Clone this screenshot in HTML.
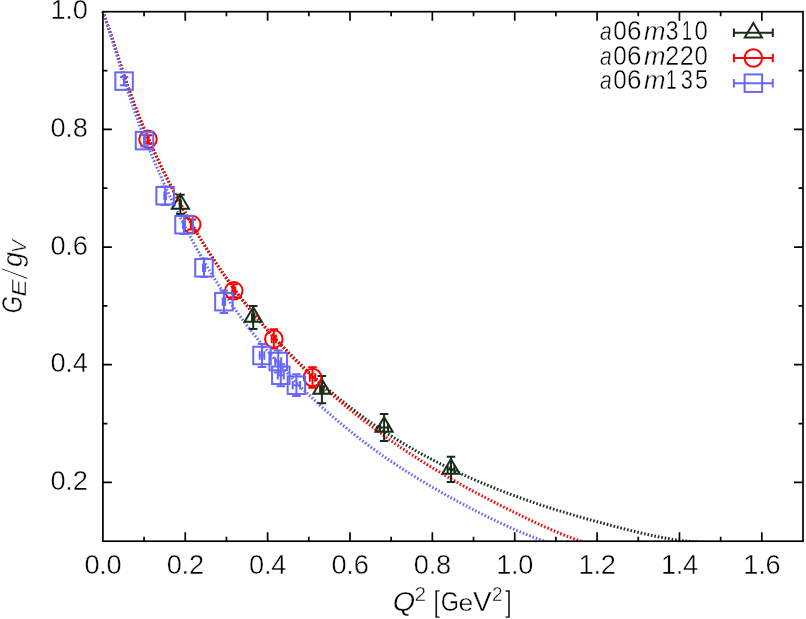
<!DOCTYPE html>
<html><head><meta charset="utf-8"><title>GE/gV</title><style>html,body{margin:0;padding:0;background:#fff;}body{width:806px;height:619px;overflow:hidden;font-family:"Liberation Sans",sans-serif;}svg{display:block;}</style></head><body>
<svg width="806" height="619" viewBox="0 0 806 619">
<rect width="806" height="619" fill="#fff"/>
<defs><filter id="gs" x="0" y="0" width="806" height="619" filterUnits="userSpaceOnUse" color-interpolation-filters="sRGB"><feColorMatrix type="saturate" values="0"/></filter><clipPath id="cp"><rect x="100.90" y="10.20" width="702.10" height="531.30"/></clipPath></defs>
<path d="M102.90,11.50L103.45,12.99M104.10,14.77L104.64,16.26M105.27,18.04L105.80,19.55M106.43,21.32L106.95,22.83M107.56,24.62L108.11,26.23M108.74,28.07L109.25,29.58M109.85,31.39L110.35,32.89M110.95,34.70L111.45,36.21M112.04,38.02L112.53,39.53M113.13,41.33L113.62,42.85M114.20,44.65L114.69,46.18M115.27,47.98L115.77,49.50M116.35,51.31L116.84,52.84M117.42,54.64L117.91,56.16M118.49,57.97L118.98,59.49M119.56,61.29L120.05,62.82M120.64,64.62L121.13,66.14M121.72,67.95L122.22,69.47M122.81,71.27L123.30,72.79M123.90,74.60L124.40,76.11M125.00,77.91L125.51,79.43M126.11,81.23L126.63,82.75M127.25,84.53L127.76,86.05M128.38,87.84L128.91,89.35M129.55,91.13L130.08,92.64M130.72,94.43L131.27,95.93M131.92,97.71L132.46,99.20M133.12,100.99L133.68,102.48M134.35,104.26L134.92,105.75M135.59,107.53L136.17,109.02M136.85,110.78L137.43,112.26M138.14,114.04L138.72,115.51M139.43,117.28L140.03,118.78M140.75,120.53L141.40,122.12M142.12,123.87L142.73,125.34M143.46,127.10L144.08,128.56M144.82,130.30L145.45,131.78M146.20,133.52L146.83,134.98M147.59,136.72L148.23,138.18M148.99,139.92L149.65,141.38M150.42,143.11L151.07,144.57M151.85,146.29L152.51,147.75M153.29,149.48L153.96,150.92M154.75,152.65L155.42,154.10M156.23,155.82L156.90,157.26M157.70,158.99L158.39,160.44M159.20,162.14L159.89,163.60M160.71,165.31L161.40,166.74M162.22,168.45L162.93,169.89M163.76,171.59L164.46,173.03M165.31,174.73L166.02,176.17M166.86,177.86L167.58,179.29M168.43,180.98L169.15,182.42M170.02,184.11L170.74,185.53M171.61,187.22L172.35,188.64M173.22,190.33L173.96,191.74M174.85,193.43L175.59,194.84M176.48,196.52L177.23,197.93M178.13,199.61L178.89,201.01M179.79,202.69L180.55,204.09M181.46,205.76L182.23,207.16M183.15,208.82L183.92,210.22M184.85,211.88L185.63,213.27M186.56,214.92L187.34,216.32M188.28,217.97L189.08,219.37M190.02,221.01L190.82,222.40M191.77,224.04L192.62,225.49M193.58,227.14L194.39,228.52M195.33,230.11L196.13,231.45M197.15,233.15L197.97,234.54M198.95,236.16L199.78,237.52M200.77,239.15L201.61,240.51M202.60,242.12L203.44,243.48M204.45,245.10L205.29,246.44M206.31,248.05L207.16,249.40M208.18,251.00L209.04,252.35M210.07,253.95L210.94,255.28M211.97,256.87L212.85,258.21M213.88,259.80L214.77,261.13M215.82,262.71L216.71,264.04M217.77,265.61L218.66,266.94M219.73,268.50L220.63,269.82M221.71,271.38L222.61,272.70M223.69,274.26L224.61,275.56M225.70,277.11L226.63,278.42M227.72,279.96L228.66,281.26M229.76,282.80L230.70,284.09M231.82,285.63L232.76,286.91M233.89,288.44L234.84,289.72M236.03,291.30L236.98,292.59M238.13,294.10L239.09,295.37M240.25,296.87L241.22,298.14M242.38,299.63L243.36,300.89M244.53,302.39L245.51,303.64M246.70,305.12L247.68,306.37M248.87,307.85L249.87,309.09M251.07,310.56L252.08,311.80M253.28,313.26L254.29,314.49M255.51,315.95L256.58,317.22M257.80,318.67L258.83,319.89M260.06,321.33L261.09,322.54M262.33,323.97L263.37,325.18M264.62,326.60L265.66,327.80M266.92,329.22L267.97,330.40M269.24,331.82L270.35,333.06M271.62,334.46L272.68,335.64M273.96,337.04L275.03,338.20M276.32,339.59L277.40,340.76M278.69,342.14L279.83,343.35M281.13,344.72L282.22,345.87M283.53,347.23L284.63,348.38M285.94,349.74L287.06,350.88M288.41,352.28L289.53,353.41M290.85,354.75L291.97,355.87M293.30,357.21L294.43,358.33M295.81,359.70L296.94,360.81M298.28,362.13L299.42,363.24M300.80,364.57L301.96,365.69M303.32,366.99L304.46,368.08M305.87,369.41L307.03,370.51M308.40,371.79L309.56,372.88M310.98,374.19L312.15,375.27M313.53,376.53L314.72,377.61M316.14,378.90L317.31,379.96M318.72,381.21L319.94,382.30M321.35,383.54L322.57,384.62M323.98,385.85L325.17,386.89M326.64,388.15L327.84,389.17M329.26,390.39L330.52,391.45M331.94,392.65L333.15,393.66M334.63,394.90L335.88,395.93M337.34,397.12L338.54,398.11M340.05,399.33L341.27,400.31M342.77,401.51L344.00,402.49M345.51,403.69L346.75,404.66M348.26,405.83L349.54,406.83M351.00,407.95L352.28,408.93M353.78,410.07L355.09,411.05M356.56,412.17L357.87,413.13M359.37,414.25L360.66,415.20M362.21,416.33L363.51,417.27M365.03,418.36L366.34,419.30M367.87,420.39L369.17,421.30M370.75,422.42L372.00,423.29M373.59,424.38L374.90,425.29M376.48,426.36L377.82,427.26M379.34,428.28L380.70,429.19M382.27,430.23L383.58,431.10M385.20,432.15L386.51,433.01M388.11,434.04L389.45,434.89M391.02,435.89L392.40,436.76M393.97,437.74L395.32,438.59M396.98,439.62L398.33,440.43M399.92,441.41L401.35,442.27M402.93,443.21L404.32,444.05M405.93,445.00L407.23,445.76M408.91,446.75L410.34,447.57M411.98,448.51L413.31,449.27M414.99,450.23L416.39,451.01M418.05,451.93L419.40,452.70M421.03,453.59L422.53,454.41M424.18,455.31L425.49,456.01M427.20,456.93L428.57,457.66M430.21,458.52L431.69,459.30M433.30,460.15L434.71,460.88M436.43,461.75L437.81,462.46M439.51,463.33L441.00,464.07M442.57,464.86L444.08,465.61M445.81,466.46L447.13,467.11M448.85,467.95L450.29,468.65M452.00,469.47L453.43,470.15M455.13,470.96L456.52,471.61M458.34,472.47L459.70,473.09M461.48,473.91L462.84,474.55M464.61,475.35L466.03,475.99M467.73,476.76L469.25,477.43M471.01,478.21L472.30,478.78M474.24,479.64L475.71,480.27M477.45,481.02L478.92,481.65M480.67,482.40L482.14,483.02M483.89,483.75L485.37,484.37M487.13,485.10L488.61,485.71M490.36,486.43L491.85,487.03M493.61,487.74L495.09,488.34M496.86,489.04L498.35,489.63M500.11,490.32L501.61,490.90M503.38,491.58L504.87,492.16M506.65,492.84L508.14,493.40M509.92,494.07L511.42,494.64M513.20,495.29L514.70,495.85M516.49,496.50L517.99,497.05M519.78,497.69L521.28,498.23M523.07,498.87L524.58,499.40M526.37,500.03L527.88,500.56M529.68,501.18L531.19,501.70M532.99,502.32L534.50,502.83M536.31,503.44L537.82,503.94M539.63,504.55L541.14,505.05M542.95,505.64L544.47,506.13M546.28,506.72L547.80,507.21M549.61,507.78L551.14,508.27M552.95,508.85L554.48,509.32M556.29,509.88L557.82,510.36M559.63,510.92L561.16,511.38M562.98,511.93L564.51,512.40M566.33,512.95L567.87,513.40M569.69,513.94L571.22,514.39M573.04,514.93L574.58,515.38M576.41,515.90L577.94,516.35M579.77,516.87L581.31,517.31M583.14,517.83L584.68,518.27M586.50,518.78L588.05,519.21M589.88,519.72L591.42,520.15M593.25,520.65L594.79,521.08M596.63,521.58L598.17,522.00M600.00,522.50L601.55,522.91M603.38,523.40L604.93,523.82M606.76,524.30L608.31,524.72M610.15,525.21L611.69,525.61M613.53,526.09L615.08,526.50M616.92,526.98L618.47,527.38M620.30,527.86L621.86,528.25M623.69,528.73L625.24,529.13M627.09,529.59L628.64,529.99M630.48,530.45L632.03,530.84M633.88,531.29L635.43,531.67M637.28,532.12L638.83,532.50M640.68,532.94L642.24,533.30M644.09,533.72L645.65,534.08M647.50,534.50L649.07,534.84M650.92,535.24L652.49,535.58M654.35,535.97L655.91,536.30M657.78,536.67L659.34,536.98M661.21,537.34L662.78,537.64M664.65,537.98L666.23,538.26M668.10,538.58L669.68,538.85M671.55,539.16L673.13,539.40M675.01,539.68L676.60,539.91M678.48,540.18L680.06,540.38M681.95,540.62L683.54,540.82M685.42,541.02L687.02,541.19M688.91,541.38L690.50,541.52M692.39,541.68L693.99,541.81M695.88,541.94L697.48,542.04M699.38,542.14L700.98,542.21M702.87,542.27L704.16,542.31" fill="none" stroke="#182d18" stroke-width="3.0" clip-path="url(#cp)"/>
<path d="M102.90,11.50 L103.72,13.75 L104.55,16.04 L105.37,18.37 L106.19,20.72 L107.02,23.10 L107.84,25.51 L108.67,27.95 L109.49,30.41 L110.31,32.89 L111.14,35.38 L111.96,37.89 L112.78,40.42 L113.61,42.96 L114.43,45.51 L115.25,48.06 L116.08,50.62 L116.90,53.18 L117.73,55.75 L118.55,58.31 L119.37,60.87 L120.20,63.42 L121.02,65.97 L121.84,68.50 L122.67,71.02 L123.49,73.53 L124.31,76.02 L125.14,78.50 L125.96,80.95 L126.79,83.37 L127.61,85.78 L128.43,88.15 L129.26,90.50 L130.08,92.82 L130.90,95.12 L131.73,97.39 L132.55,99.64 L133.37,101.86 L134.20,104.06 L135.02,106.23 L135.85,108.38 L136.67,110.52 L137.49,112.63 L138.32,114.71 L139.14,116.78 L139.96,118.83 L140.79,120.86 L141.61,122.87 L142.44,124.87 L143.26,126.84 L144.08,128.80 L144.91,130.75 L145.73,132.67 L146.55,134.59 L147.38,136.48 L148.20,138.37 L149.02,140.24 L149.85,142.10 L150.67,143.94 L151.50,145.78 L152.32,147.60 L153.14,149.41 L153.97,151.22 L154.79,153.01 L155.61,154.79 L156.44,156.56 L157.26,158.33 L158.08,160.08 L158.91,161.82 L159.73,163.55 L160.56,165.27 L161.38,166.99 L162.20,168.69 L163.03,170.39 L163.85,172.07 L164.67,173.75 L165.50,175.41 L166.32,177.07 L167.14,178.72 L167.97,180.36 L168.79,181.99 L169.62,183.61 L170.44,185.23 L171.26,186.83 L172.09,188.43 L172.91,190.02 L173.73,191.60 L174.56,193.17 L175.38,194.74 L176.20,196.29 L177.03,197.84 L177.85,199.38 L178.68,200.92 L179.50,202.44 L180.32,203.96 L181.15,205.47 L181.97,206.97 L182.79,208.47 L183.62,209.96 L184.44,211.44 L185.26,212.92 L186.09,214.38 L186.91,215.85 L187.74,217.30 L188.56,218.75 L189.38,220.19 L190.21,221.62 L191.03,223.05 L191.85,224.47 L192.68,225.89 L193.50,227.30 L194.32,228.70 L195.15,230.09 L195.97,231.48 L196.80,232.86 L197.62,234.24 L198.44,235.61 L199.27,236.97 L200.09,238.33 L200.91,239.68 L201.74,241.02 L202.56,242.36 L203.38,243.69 L204.21,245.01 L205.03,246.33 L205.86,247.64 L206.68,248.95 L207.50,250.25 L208.33,251.54 L209.15,252.83 L209.97,254.11 L210.80,255.39 L211.62,256.66 L212.45,257.92 L213.27,259.18 L214.09,260.43 L214.92,261.68 L215.74,262.92 L216.56,264.15 L217.39,265.38 L218.21,266.60 L219.03,267.82 L219.86,269.03 L220.68,270.24 L221.51,271.44 L222.33,272.63 L223.15,273.82 L223.98,275.00 L224.80,276.18 L225.62,277.35 L226.45,278.52 L227.27,279.68 L228.09,280.83 L228.92,281.98 L229.74,283.13 L230.57,284.27 L231.39,285.40 L232.21,286.53 L233.04,287.65 L233.86,288.77 L234.68,289.88 L235.51,290.99 L236.33,292.09 L237.15,293.19 L237.98,294.28 L238.80,295.37 L239.63,296.45 L240.45,297.53 L241.27,298.60 L242.10,299.67 L242.92,300.74 L243.74,301.79 L244.57,302.85 L245.39,303.90 L246.21,304.94 L247.04,305.98 L247.86,307.02 L248.69,308.05 L249.51,309.07 L250.33,310.09 L251.16,311.11 L251.98,312.12 L252.80,313.13 L253.63,314.14 L254.45,315.14 L255.27,316.13 L256.10,317.12 L256.92,318.11 L257.75,319.09 L258.57,320.07 L259.39,321.05 L260.22,322.02 L261.04,322.98 L261.86,323.95 L262.69,324.90 L263.51,325.86 L264.33,326.81 L265.16,327.76 L265.98,328.70 L266.81,329.64 L267.63,330.58 L268.45,331.51 L269.28,332.44 L270.10,333.36 L270.92,334.28 L271.75,335.20 L272.57,336.11 L273.39,337.02 L274.22,337.93 L275.04,338.84 L275.87,339.74 L276.69,340.63 L277.51,341.53 L278.34,342.42 L279.16,343.30 L279.98,344.19 L280.81,345.07 L281.63,345.95 L282.46,346.82 L283.28,347.69 L284.10,348.56 L284.93,349.43 L285.75,350.29 L286.57,351.15 L287.40,352.01 L288.22,352.86 L289.04,353.71 L289.87,354.56 L290.69,355.41 L291.52,356.25 L292.34,357.09 L293.16,357.93 L293.99,358.76 L294.81,359.59 L295.63,360.42 L296.46,361.25 L297.28,362.07 L298.10,362.90 L298.93,363.71 L299.75,364.53 L300.58,365.34 L301.40,366.15 L302.22,366.96 L303.05,367.77 L303.87,368.57 L304.69,369.37 L305.52,370.17 L306.34,370.96 L307.16,371.75 L307.99,372.54 L308.81,373.33 L309.64,374.12 L310.46,374.90 L311.28,375.68 L312.11,376.45 L312.93,377.23 L313.75,378.00 L314.58,378.77 L315.40,379.54 L316.22,380.30 L317.05,381.06 L317.87,381.82 L318.70,382.58 L319.52,383.34 L320.34,384.09 L321.17,384.84 L321.99,385.59 L322.81,386.33 L323.64,387.07 L324.46,387.81 L325.28,388.55 L326.11,389.29 L326.93,390.02 L327.76,390.75 L328.58,391.48 L329.40,392.21 L330.23,392.93 L331.05,393.65 L331.87,394.37 L332.70,395.09 L333.52,395.81 L334.34,396.52 L335.17,397.23 L335.99,397.94 L336.82,398.64 L337.64,399.35 L338.46,400.05 L339.29,400.75 L340.11,401.45 L340.93,402.14 L341.76,402.83 L342.58,403.52 L343.40,404.21 L344.23,404.90 L345.05,405.58 L345.88,406.27 L346.70,406.95 L347.52,407.62 L348.35,408.30 L349.17,408.97 L349.99,409.65 L350.82,410.32 L351.64,410.98 L352.47,411.65 L353.29,412.31 L354.11,412.97 L354.94,413.63 L355.76,414.29 L356.58,414.95 L357.41,415.60 L358.23,416.25 L359.05,416.90 L359.88,417.55 L360.70,418.20 L361.53,418.84 L362.35,419.48 L363.17,420.12 L364.00,420.76 L364.82,421.40 L365.64,422.03 L366.47,422.67 L367.29,423.30 L368.11,423.92 L368.94,424.55 L369.76,425.18 L370.59,425.80 L371.41,426.42 L372.23,427.04 L373.06,427.66 L373.88,428.28 L374.70,428.89 L375.53,429.50 L376.35,430.12 L377.17,430.72 L378.00,431.33 L378.82,431.94 L379.65,432.54 L380.47,433.14 L381.29,433.74 L382.12,434.34 L382.94,434.94 L383.76,435.54 L384.59,436.13 L385.41,436.72 L386.23,437.31 L387.06,437.90 L387.88,438.49 L388.71,439.07 L389.53,439.65 L390.35,440.24 L391.18,440.82 L392.00,441.39 L392.82,441.97 L393.65,442.55 L394.47,443.12 L395.29,443.69 L396.12,444.26 L396.94,444.83 L397.77,445.40 L398.59,445.96 L399.41,446.53 L400.24,447.09 L401.06,447.65 L401.88,448.21 L402.71,448.77 L403.53,449.32 L404.35,449.88 L405.18,450.43 L406.00,450.98 L406.83,451.53 L407.65,452.08 L408.47,452.62 L409.30,453.17 L410.12,453.71 L410.94,454.25 L411.77,454.79 L412.59,455.33 L413.41,455.87 L414.24,456.40 L415.06,456.94 L415.89,457.47 L416.71,458.00 L417.53,458.53 L418.36,459.06 L419.18,459.59 L420.00,460.11 L420.83,460.64 L421.65,461.16 L422.48,461.68 L423.30,462.20 L424.12,462.72 L424.95,463.23 L425.77,463.75 L426.59,464.26 L427.42,464.78 L428.24,465.29 L429.06,465.80 L429.89,466.30 L430.71,466.81 L431.54,467.32 L432.36,467.82 L433.18,468.32 L434.01,468.82 L434.83,469.32 L435.65,469.82 L436.48,470.32 L437.30,470.82 L438.12,471.31 L438.95,471.80 L439.77,472.29 L440.60,472.79 L441.42,473.27 L442.24,473.76 L443.07,474.25 L443.89,474.73 L444.71,475.22 L445.54,475.70 L446.36,476.18 L447.18,476.66 L448.01,477.14 L448.83,477.62 L449.66,478.09 L450.48,478.57 L451.30,479.04 L452.13,479.52 L452.95,479.99 L453.77,480.46 L454.60,480.93 L455.42,481.39 L456.24,481.86 L457.07,482.33 L457.89,482.79 L458.72,483.25 L459.54,483.71 L460.36,484.17 L461.19,484.63 L462.01,485.09 L462.83,485.55 L463.66,486.01 L464.48,486.46 L465.30,486.91 L466.13,487.37 L466.95,487.82 L467.78,488.27 L468.60,488.72 L469.42,489.17 L470.25,489.62 L471.07,490.06 L471.89,490.51 L472.72,490.95 L473.54,491.40 L474.36,491.84 L475.19,492.28 L476.01,492.72 L476.84,493.16 L477.66,493.60 L478.48,494.04 L479.31,494.47 L480.13,494.91 L480.95,495.34 L481.78,495.78 L482.60,496.21 L483.42,496.64 L484.25,497.08 L485.07,497.51 L485.90,497.94 L486.72,498.36 L487.54,498.79 L488.37,499.22 L489.19,499.65 L490.01,500.07 L490.84,500.50 L491.66,500.92 L492.49,501.35 L493.31,501.77 L494.13,502.19 L494.96,502.61 L495.78,503.03 L496.60,503.45 L497.43,503.87 L498.25,504.29 L499.07,504.71 L499.90,505.13 L500.72,505.54 L501.55,505.96 L502.37,506.37 L503.19,506.79 L504.02,507.20 L504.84,507.61 L505.66,508.03 L506.49,508.44 L507.31,508.85 L508.13,509.26 L508.96,509.67 L509.78,510.08 L510.61,510.49 L511.43,510.90 L512.25,511.31 L513.08,511.72 L513.90,512.12 L514.72,512.53 L515.55,512.94 L516.37,513.34 L517.19,513.75 L518.02,514.15 L518.84,514.56 L519.67,514.96 L520.49,515.36 L521.31,515.77 L522.14,516.17 L522.96,516.57 L523.78,516.97 L524.61,517.37 L525.43,517.77 L526.25,518.17 L527.08,518.56 L527.90,518.96 L528.73,519.35 L529.55,519.75 L530.37,520.14 L531.20,520.53 L532.02,520.92 L532.84,521.31 L533.67,521.70 L534.49,522.09 L535.31,522.48 L536.14,522.86 L536.96,523.25 L537.79,523.63 L538.61,524.01 L539.43,524.39 L540.26,524.77 L541.08,525.15 L541.90,525.53 L542.73,525.90 L543.55,526.28 L544.37,526.65 L545.20,527.02 L546.02,527.39 L546.85,527.76 L547.67,528.12 L548.49,528.49 L549.32,528.85 L550.14,529.21 L550.96,529.57 L551.79,529.93 L552.61,530.28 L553.43,530.64 L554.26,530.99 L555.08,531.34 L555.91,531.69 L556.73,532.04 L557.55,532.38 L558.38,532.73 L559.20,533.07 L560.02,533.41 L560.85,533.75 L561.67,534.08 L562.50,534.42 L563.32,534.75 L564.14,535.08 L564.97,535.40 L565.79,535.73 L566.61,536.05 L567.44,536.37 L568.26,536.69 L569.08,537.01 L569.91,537.32 L570.73,537.63 L571.56,537.94 L572.38,538.25 L573.20,538.55 L574.03,538.85 L574.85,539.15 L575.67,539.45 L576.50,539.74 L577.32,540.03 L578.14,540.32 L578.97,540.61 L579.79,540.89 L580.62,541.17 L581.44,541.45 L582.26,541.73 L583.09,542.00 L583.91,542.27 L584.73,542.54 L585.56,542.80 L586.38,543.06 L587.20,543.32 L588.03,543.58 L588.85,543.83 L589.68,544.08 L590.50,544.33 L590.91,544.45" fill="none" stroke="#ff0000" stroke-width="3.0" stroke-dasharray="1.6 1.9" clip-path="url(#cp)"/>
<path d="M102.90,11.50 L103.72,13.80 L104.55,16.15 L105.37,18.54 L106.19,20.98 L107.02,23.46 L107.84,25.98 L108.67,28.54 L109.49,31.13 L110.31,33.75 L111.14,36.40 L111.96,39.07 L112.78,41.76 L113.61,44.47 L114.43,47.20 L115.25,49.94 L116.08,52.70 L116.90,55.45 L117.73,58.22 L118.55,60.98 L119.37,63.75 L120.20,66.50 L121.02,69.26 L121.84,72.00 L122.67,74.73 L123.49,77.44 L124.31,80.14 L125.14,82.81 L125.96,85.46 L126.79,88.08 L127.61,90.67 L128.43,93.23 L129.26,95.76 L130.08,98.26 L130.90,100.72 L131.73,103.16 L132.55,105.57 L133.37,107.94 L134.20,110.30 L135.02,112.62 L135.85,114.92 L136.67,117.19 L137.49,119.44 L138.32,121.67 L139.14,123.87 L139.96,126.06 L140.79,128.22 L141.61,130.36 L142.44,132.48 L143.26,134.58 L144.08,136.67 L144.91,138.74 L145.73,140.79 L146.55,142.83 L147.38,144.85 L148.20,146.86 L149.02,148.85 L149.85,150.83 L150.67,152.80 L151.50,154.76 L152.32,156.72 L153.14,158.66 L153.97,160.59 L154.79,162.51 L155.61,164.43 L156.44,166.33 L157.26,168.23 L158.08,170.12 L158.91,171.99 L159.73,173.86 L160.56,175.72 L161.38,177.57 L162.20,179.42 L163.03,181.25 L163.85,183.07 L164.67,184.89 L165.50,186.70 L166.32,188.49 L167.14,190.28 L167.97,192.06 L168.79,193.83 L169.62,195.59 L170.44,197.34 L171.26,199.09 L172.09,200.82 L172.91,202.55 L173.73,204.27 L174.56,205.97 L175.38,207.67 L176.20,209.36 L177.03,211.04 L177.85,212.72 L178.68,214.38 L179.50,216.03 L180.32,217.68 L181.15,219.32 L181.97,220.94 L182.79,222.56 L183.62,224.17 L184.44,225.78 L185.26,227.37 L186.09,228.95 L186.91,230.53 L187.74,232.09 L188.56,233.65 L189.38,235.20 L190.21,236.74 L191.03,238.27 L191.85,239.80 L192.68,241.31 L193.50,242.82 L194.32,244.32 L195.15,245.81 L195.97,247.29 L196.80,248.76 L197.62,250.23 L198.44,251.69 L199.27,253.14 L200.09,254.58 L200.91,256.01 L201.74,257.44 L202.56,258.86 L203.38,260.27 L204.21,261.68 L205.03,263.07 L205.86,264.46 L206.68,265.84 L207.50,267.22 L208.33,268.58 L209.15,269.94 L209.97,271.30 L210.80,272.64 L211.62,273.98 L212.45,275.31 L213.27,276.63 L214.09,277.95 L214.92,279.26 L215.74,280.57 L216.56,281.86 L217.39,283.15 L218.21,284.44 L219.03,285.71 L219.86,286.98 L220.68,288.25 L221.51,289.51 L222.33,290.76 L223.15,292.00 L223.98,293.24 L224.80,294.47 L225.62,295.70 L226.45,296.92 L227.27,298.14 L228.09,299.34 L228.92,300.55 L229.74,301.74 L230.57,302.93 L231.39,304.12 L232.21,305.30 L233.04,306.47 L233.86,307.64 L234.68,308.80 L235.51,309.96 L236.33,311.11 L237.15,312.25 L237.98,313.39 L238.80,314.53 L239.63,315.66 L240.45,316.78 L241.27,317.90 L242.10,319.01 L242.92,320.12 L243.74,321.22 L244.57,322.32 L245.39,323.41 L246.21,324.50 L247.04,325.58 L247.86,326.66 L248.69,327.73 L249.51,328.79 L250.33,329.86 L251.16,330.91 L251.98,331.96 L252.80,333.01 L253.63,334.05 L254.45,335.09 L255.27,336.12 L256.10,337.15 L256.92,338.17 L257.75,339.19 L258.57,340.21 L259.39,341.22 L260.22,342.22 L261.04,343.22 L261.86,344.22 L262.69,345.21 L263.51,346.20 L264.33,347.18 L265.16,348.16 L265.98,349.13 L266.81,350.10 L267.63,351.07 L268.45,352.03 L269.28,352.99 L270.10,353.94 L270.92,354.89 L271.75,355.84 L272.57,356.78 L273.39,357.71 L274.22,358.65 L275.04,359.58 L275.87,360.50 L276.69,361.43 L277.51,362.35 L278.34,363.26 L279.16,364.17 L279.98,365.08 L280.81,365.98 L281.63,366.88 L282.46,367.78 L283.28,368.67 L284.10,369.56 L284.93,370.45 L285.75,371.33 L286.57,372.21 L287.40,373.09 L288.22,373.96 L289.04,374.83 L289.87,375.70 L290.69,376.57 L291.52,377.43 L292.34,378.28 L293.16,379.14 L293.99,379.99 L294.81,380.84 L295.63,381.68 L296.46,382.52 L297.28,383.36 L298.10,384.20 L298.93,385.03 L299.75,385.86 L300.58,386.69 L301.40,387.51 L302.22,388.33 L303.05,389.15 L303.87,389.96 L304.69,390.77 L305.52,391.58 L306.34,392.39 L307.16,393.19 L307.99,393.99 L308.81,394.78 L309.64,395.58 L310.46,396.37 L311.28,397.16 L312.11,397.94 L312.93,398.72 L313.75,399.50 L314.58,400.28 L315.40,401.05 L316.22,401.82 L317.05,402.59 L317.87,403.35 L318.70,404.12 L319.52,404.87 L320.34,405.63 L321.17,406.38 L321.99,407.13 L322.81,407.88 L323.64,408.63 L324.46,409.37 L325.28,410.11 L326.11,410.85 L326.93,411.58 L327.76,412.31 L328.58,413.04 L329.40,413.77 L330.23,414.49 L331.05,415.21 L331.87,415.93 L332.70,416.65 L333.52,417.36 L334.34,418.07 L335.17,418.78 L335.99,419.48 L336.82,420.18 L337.64,420.88 L338.46,421.58 L339.29,422.28 L340.11,422.97 L340.93,423.66 L341.76,424.35 L342.58,425.03 L343.40,425.71 L344.23,426.39 L345.05,427.07 L345.88,427.75 L346.70,428.42 L347.52,429.09 L348.35,429.76 L349.17,430.42 L349.99,431.08 L350.82,431.75 L351.64,432.40 L352.47,433.06 L353.29,433.71 L354.11,434.36 L354.94,435.01 L355.76,435.66 L356.58,436.30 L357.41,436.94 L358.23,437.58 L359.05,438.22 L359.88,438.86 L360.70,439.49 L361.53,440.12 L362.35,440.75 L363.17,441.37 L364.00,442.00 L364.82,442.62 L365.64,443.24 L366.47,443.86 L367.29,444.47 L368.11,445.08 L368.94,445.69 L369.76,446.30 L370.59,446.91 L371.41,447.51 L372.23,448.12 L373.06,448.72 L373.88,449.31 L374.70,449.91 L375.53,450.50 L376.35,451.10 L377.17,451.69 L378.00,452.27 L378.82,452.86 L379.65,453.44 L380.47,454.03 L381.29,454.61 L382.12,455.18 L382.94,455.76 L383.76,456.33 L384.59,456.91 L385.41,457.48 L386.23,458.04 L387.06,458.61 L387.88,459.18 L388.71,459.74 L389.53,460.30 L390.35,460.86 L391.18,461.41 L392.00,461.97 L392.82,462.52 L393.65,463.08 L394.47,463.62 L395.29,464.17 L396.12,464.72 L396.94,465.26 L397.77,465.81 L398.59,466.35 L399.41,466.89 L400.24,467.43 L401.06,467.96 L401.88,468.50 L402.71,469.03 L403.53,469.56 L404.35,470.09 L405.18,470.62 L406.00,471.14 L406.83,471.67 L407.65,472.19 L408.47,472.71 L409.30,473.23 L410.12,473.75 L410.94,474.26 L411.77,474.78 L412.59,475.29 L413.41,475.81 L414.24,476.32 L415.06,476.82 L415.89,477.33 L416.71,477.84 L417.53,478.34 L418.36,478.85 L419.18,479.35 L420.00,479.85 L420.83,480.35 L421.65,480.84 L422.48,481.34 L423.30,481.83 L424.12,482.33 L424.95,482.82 L425.77,483.31 L426.59,483.80 L427.42,484.29 L428.24,484.77 L429.06,485.26 L429.89,485.74 L430.71,486.22 L431.54,486.71 L432.36,487.19 L433.18,487.66 L434.01,488.14 L434.83,488.62 L435.65,489.09 L436.48,489.57 L437.30,490.04 L438.12,490.51 L438.95,490.98 L439.77,491.45 L440.60,491.92 L441.42,492.39 L442.24,492.85 L443.07,493.32 L443.89,493.78 L444.71,494.24 L445.54,494.71 L446.36,495.17 L447.18,495.63 L448.01,496.08 L448.83,496.54 L449.66,497.00 L450.48,497.45 L451.30,497.91 L452.13,498.36 L452.95,498.81 L453.77,499.26 L454.60,499.72 L455.42,500.16 L456.24,500.61 L457.07,501.06 L457.89,501.51 L458.72,501.95 L459.54,502.40 L460.36,502.84 L461.19,503.28 L462.01,503.72 L462.83,504.17 L463.66,504.60 L464.48,505.04 L465.30,505.48 L466.13,505.92 L466.95,506.35 L467.78,506.79 L468.60,507.22 L469.42,507.65 L470.25,508.08 L471.07,508.51 L471.89,508.94 L472.72,509.37 L473.54,509.79 L474.36,510.22 L475.19,510.64 L476.01,511.06 L476.84,511.49 L477.66,511.91 L478.48,512.32 L479.31,512.74 L480.13,513.16 L480.95,513.57 L481.78,513.99 L482.60,514.40 L483.42,514.81 L484.25,515.22 L485.07,515.63 L485.90,516.04 L486.72,516.45 L487.54,516.85 L488.37,517.26 L489.19,517.66 L490.01,518.06 L490.84,518.46 L491.66,518.86 L492.49,519.26 L493.31,519.66 L494.13,520.05 L494.96,520.44 L495.78,520.84 L496.60,521.23 L497.43,521.62 L498.25,522.01 L499.07,522.39 L499.90,522.78 L500.72,523.16 L501.55,523.54 L502.37,523.93 L503.19,524.31 L504.02,524.68 L504.84,525.06 L505.66,525.44 L506.49,525.81 L507.31,526.18 L508.13,526.55 L508.96,526.92 L509.78,527.29 L510.61,527.66 L511.43,528.02 L512.25,528.39 L513.08,528.75 L513.90,529.11 L514.72,529.47 L515.55,529.82 L516.37,530.18 L517.19,530.53 L518.02,530.89 L518.84,531.24 L519.67,531.59 L520.49,531.94 L521.31,532.28 L522.14,532.63 L522.96,532.97 L523.78,533.31 L524.61,533.65 L525.43,533.99 L526.25,534.33 L527.08,534.66 L527.90,534.99 L528.73,535.33 L529.55,535.66 L530.37,535.98 L531.20,536.31 L532.02,536.64 L532.84,536.96 L533.67,537.28 L534.49,537.60 L535.31,537.92 L536.14,538.23 L536.96,538.55 L537.79,538.86 L538.61,539.17 L539.43,539.48 L540.26,539.79 L541.08,540.09 L541.90,540.40 L542.73,540.70 L543.55,541.00 L544.37,541.30 L545.20,541.59 L546.02,541.89 L546.85,542.18 L547.67,542.47 L548.49,542.76 L549.32,543.05 L550.14,543.34 L550.96,543.62 L551.79,543.90 L552.61,544.18 L553.43,544.46 L553.43,544.46" fill="none" stroke="#6666ff" stroke-width="3.0" stroke-dasharray="1.6 1.9" clip-path="url(#cp)"/>
<g stroke="#182d18" stroke-width="2" fill="none"><path d="M180.40,194.80 V214.00 M176.15,194.80 H184.65 M176.15,214.00 H184.65"/><path d="M179.80,204.40 H181.00 M179.80,200.15 V208.65 M181.00,200.15 V208.65"/></g>
<path d="M180.40,194.10 L171.80,208.65 L189.00,208.65 Z" fill="none" stroke="#182d18" stroke-width="2" stroke-linejoin="miter"/>
<g stroke="#182d18" stroke-width="2" fill="none"><path d="M253.20,305.90 V329.00 M248.95,305.90 H257.45 M248.95,329.00 H257.45"/><path d="M252.00,317.45 H254.40 M252.00,313.20 V321.70 M254.40,313.20 V321.70"/></g>
<path d="M253.20,307.15 L244.60,321.70 L261.80,321.70 Z" fill="none" stroke="#182d18" stroke-width="2" stroke-linejoin="miter"/>
<g stroke="#182d18" stroke-width="2" fill="none"><path d="M321.90,375.90 V403.30 M317.65,375.90 H326.15 M317.65,403.30 H326.15"/><path d="M320.10,389.60 H323.70 M320.10,385.35 V393.85 M323.70,385.35 V393.85"/></g>
<path d="M321.90,379.30 L313.30,393.85 L330.50,393.85 Z" fill="none" stroke="#182d18" stroke-width="2" stroke-linejoin="miter"/>
<g stroke="#182d18" stroke-width="2" fill="none"><path d="M384.10,414.10 V441.10 M379.85,414.10 H388.35 M379.85,441.10 H388.35"/><path d="M380.10,427.60 H388.10 M380.10,423.35 V431.85 M388.10,423.35 V431.85"/></g>
<path d="M384.10,417.30 L375.50,431.85 L392.70,431.85 Z" fill="none" stroke="#182d18" stroke-width="2" stroke-linejoin="miter"/>
<g stroke="#182d18" stroke-width="2" fill="none"><path d="M451.00,456.85 V481.95 M446.75,456.85 H455.25 M446.75,481.95 H455.25"/><path d="M447.60,469.40 H454.40 M447.60,465.15 V473.65 M454.40,465.15 V473.65"/></g>
<path d="M451.00,459.10 L442.40,473.65 L459.60,473.65 Z" fill="none" stroke="#182d18" stroke-width="2" stroke-linejoin="miter"/>
<g stroke="#ff0000" stroke-width="2" fill="none"><path d="M148.00,135.20 V143.20 M143.75,135.20 H152.25 M143.75,143.20 H152.25"/><path d="M147.60,139.20 H148.40 M147.60,134.95 V143.45 M148.40,134.95 V143.45"/></g>
<circle cx="148.00" cy="139.20" r="8.75" fill="none" stroke="#ff0000" stroke-width="2"/>
<g stroke="#ff0000" stroke-width="2" fill="none"><path d="M191.70,219.60 V229.60 M187.45,219.60 H195.95 M187.45,229.60 H195.95"/><path d="M190.90,224.60 H192.50 M190.90,220.35 V228.85 M192.50,220.35 V228.85"/></g>
<circle cx="191.70" cy="224.60" r="8.75" fill="none" stroke="#ff0000" stroke-width="2"/>
<g stroke="#ff0000" stroke-width="2" fill="none"><path d="M233.80,284.30 V297.30 M229.55,284.30 H238.05 M229.55,297.30 H238.05"/><path d="M232.30,290.80 H235.30 M232.30,286.55 V295.05 M235.30,286.55 V295.05"/></g>
<circle cx="233.80" cy="290.80" r="8.75" fill="none" stroke="#ff0000" stroke-width="2"/>
<g stroke="#ff0000" stroke-width="2" fill="none"><path d="M273.80,329.30 V348.50 M269.55,329.30 H278.05 M269.55,348.50 H278.05"/><path d="M271.70,338.90 H275.90 M271.70,334.65 V343.15 M275.90,334.65 V343.15"/></g>
<circle cx="273.80" cy="338.90" r="8.75" fill="none" stroke="#ff0000" stroke-width="2"/>
<g stroke="#ff0000" stroke-width="2" fill="none"><path d="M312.50,367.20 V387.80 M308.25,367.20 H316.75 M308.25,387.80 H316.75"/><path d="M309.80,377.50 H315.20 M309.80,373.25 V381.75 M315.20,373.25 V381.75"/></g>
<circle cx="312.50" cy="377.50" r="8.75" fill="none" stroke="#ff0000" stroke-width="2"/>
<g stroke="#6666ff" stroke-width="2" fill="none"><path d="M124.10,76.90 V85.30 M119.85,76.90 H128.35 M119.85,85.30 H128.35"/><path d="M123.90,81.10 H124.30 M123.90,76.85 V85.35 M124.30,76.85 V85.35"/></g>
<rect x="115.35" y="72.35" width="17.5" height="17.5" fill="none" stroke="#6666ff" stroke-width="2"/>
<g stroke="#6666ff" stroke-width="2" fill="none"><path d="M144.50,134.60 V146.60 M140.25,134.60 H148.75 M140.25,146.60 H148.75"/><path d="M144.10,140.60 H144.90 M144.10,136.35 V144.85 M144.90,136.35 V144.85"/></g>
<rect x="135.75" y="131.85" width="17.5" height="17.5" fill="none" stroke="#6666ff" stroke-width="2"/>
<g stroke="#6666ff" stroke-width="2" fill="none"><path d="M165.10,186.40 V205.00 M160.85,186.40 H169.35 M160.85,205.00 H169.35"/><path d="M164.30,195.70 H165.90 M164.30,191.45 V199.95 M165.90,191.45 V199.95"/></g>
<rect x="156.35" y="186.95" width="17.5" height="17.5" fill="none" stroke="#6666ff" stroke-width="2"/>
<g stroke="#6666ff" stroke-width="2" fill="none"><path d="M184.00,215.40 V234.00 M179.75,215.40 H188.25 M179.75,234.00 H188.25"/><path d="M183.00,224.70 H185.00 M183.00,220.45 V228.95 M185.00,220.45 V228.95"/></g>
<rect x="175.25" y="215.95" width="17.5" height="17.5" fill="none" stroke="#6666ff" stroke-width="2"/>
<g stroke="#6666ff" stroke-width="2" fill="none"><path d="M204.00,258.50 V277.10 M199.75,258.50 H208.25 M199.75,277.10 H208.25"/><path d="M203.00,267.80 H205.00 M203.00,263.55 V272.05 M205.00,263.55 V272.05"/></g>
<rect x="195.25" y="259.05" width="17.5" height="17.5" fill="none" stroke="#6666ff" stroke-width="2"/>
<g stroke="#6666ff" stroke-width="2" fill="none"><path d="M223.90,290.40 V313.00 M219.65,290.40 H228.15 M219.65,313.00 H228.15"/><path d="M222.70,301.70 H225.10 M222.70,297.45 V305.95 M225.10,297.45 V305.95"/></g>
<rect x="215.15" y="292.95" width="17.5" height="17.5" fill="none" stroke="#6666ff" stroke-width="2"/>
<g stroke="#6666ff" stroke-width="2" fill="none"><path d="M262.00,344.10 V366.90 M257.75,344.10 H266.25 M257.75,366.90 H266.25"/><path d="M259.70,355.50 H264.30 M259.70,351.25 V359.75 M264.30,351.25 V359.75"/></g>
<rect x="253.25" y="346.75" width="17.5" height="17.5" fill="none" stroke="#6666ff" stroke-width="2"/>
<g stroke="#6666ff" stroke-width="2" fill="none"><path d="M278.20,350.50 V372.50 M273.95,350.50 H282.45 M273.95,372.50 H282.45"/><path d="M275.20,361.50 H281.20 M275.20,357.25 V365.75 M281.20,357.25 V365.75"/></g>
<rect x="269.45" y="352.75" width="17.5" height="17.5" fill="none" stroke="#6666ff" stroke-width="2"/>
<g stroke="#6666ff" stroke-width="2" fill="none"><path d="M280.80,364.30 V386.30 M276.55,364.30 H285.05 M276.55,386.30 H285.05"/><path d="M277.80,375.30 H283.80 M277.80,371.05 V379.55 M283.80,371.05 V379.55"/></g>
<rect x="272.05" y="366.55" width="17.5" height="17.5" fill="none" stroke="#6666ff" stroke-width="2"/>
<g stroke="#6666ff" stroke-width="2" fill="none"><path d="M296.40,374.30 V396.10 M292.15,374.30 H300.65 M292.15,396.10 H300.65"/><path d="M292.70,385.20 H300.10 M292.70,380.95 V389.45 M300.10,380.95 V389.45"/></g>
<rect x="287.65" y="376.45" width="17.5" height="17.5" fill="none" stroke="#6666ff" stroke-width="2"/>
<g stroke="#000" stroke-width="1.7" fill="none">
<rect x="102.90" y="11.70" width="700.10" height="529.50"/>
<path d="M144.08,541.20 v-4.50 M144.08,11.70 v4.50 M185.26,541.20 v-9.00 M185.26,11.70 v9.00 M226.45,541.20 v-4.50 M226.45,11.70 v4.50 M267.63,541.20 v-9.00 M267.63,11.70 v9.00 M308.81,541.20 v-4.50 M308.81,11.70 v4.50 M349.99,541.20 v-9.00 M349.99,11.70 v9.00 M391.18,541.20 v-4.50 M391.18,11.70 v4.50 M432.36,541.20 v-9.00 M432.36,11.70 v9.00 M473.54,541.20 v-4.50 M473.54,11.70 v4.50 M514.72,541.20 v-9.00 M514.72,11.70 v9.00 M555.91,541.20 v-4.50 M555.91,11.70 v4.50 M597.09,541.20 v-9.00 M597.09,11.70 v9.00 M638.27,541.20 v-4.50 M638.27,11.70 v4.50 M679.45,541.20 v-9.00 M679.45,11.70 v9.00 M720.64,541.20 v-4.50 M720.64,11.70 v4.50 M761.82,541.20 v-9.00 M761.82,11.70 v9.00 M102.90,482.37 h9.00 M803.00,482.37 h-9.00 M102.90,423.53 h4.50 M803.00,423.53 h-4.50 M102.90,364.70 h9.00 M803.00,364.70 h-9.00 M102.90,305.87 h4.50 M803.00,305.87 h-4.50 M102.90,247.03 h9.00 M803.00,247.03 h-9.00 M102.90,188.20 h4.50 M803.00,188.20 h-4.50 M102.90,129.37 h9.00 M803.00,129.37 h-9.00 M102.90,70.53 h4.50 M803.00,70.53 h-4.50 "/>
</g>
<g stroke="#182d18" stroke-width="2" fill="none"><path d="M733.9,32.70 H772.8 M733.9,28.45 v8.50 M772.8,28.45 v8.50"/></g>
<path d="M753.35,23.00 L744.75,37.55 L761.95,37.55 Z" fill="none" stroke="#182d18" stroke-width="2" stroke-linejoin="miter"/>
<g stroke="#ff0000" stroke-width="2" fill="none"><path d="M733.9,58.00 H772.8 M733.9,53.75 v8.50 M772.8,53.75 v8.50"/></g>
<circle cx="753.35" cy="58.00" r="8.75" fill="none" stroke="#ff0000" stroke-width="2"/>
<g stroke="#6666ff" stroke-width="2" fill="none"><path d="M733.9,83.20 H772.8 M733.9,78.95 v8.50 M772.8,78.95 v8.50"/></g>
<rect x="744.60" y="74.45" width="17.5" height="17.5" fill="none" stroke="#6666ff" stroke-width="2"/>
<g filter="url(#gs)">
<text x="102.90" y="574.00" font-size="27.20" letter-spacing="-0.25" text-anchor="middle" font-family="Liberation Sans, sans-serif" stroke="#fff" stroke-width="0.40" stroke-linejoin="round" fill="#000">0.0</text>
<text x="185.26" y="574.00" font-size="27.20" letter-spacing="-0.25" text-anchor="middle" font-family="Liberation Sans, sans-serif" stroke="#fff" stroke-width="0.40" stroke-linejoin="round" fill="#000">0.2</text>
<text x="267.63" y="574.00" font-size="27.20" letter-spacing="-0.25" text-anchor="middle" font-family="Liberation Sans, sans-serif" stroke="#fff" stroke-width="0.40" stroke-linejoin="round" fill="#000">0.4</text>
<text x="349.99" y="574.00" font-size="27.20" letter-spacing="-0.25" text-anchor="middle" font-family="Liberation Sans, sans-serif" stroke="#fff" stroke-width="0.40" stroke-linejoin="round" fill="#000">0.6</text>
<text x="432.36" y="574.00" font-size="27.20" letter-spacing="-0.25" text-anchor="middle" font-family="Liberation Sans, sans-serif" stroke="#fff" stroke-width="0.40" stroke-linejoin="round" fill="#000">0.8</text>
<text x="514.72" y="574.00" font-size="27.20" letter-spacing="-0.25" text-anchor="middle" font-family="Liberation Sans, sans-serif" stroke="#fff" stroke-width="0.40" stroke-linejoin="round" fill="#000">1.0</text>
<text x="597.09" y="574.00" font-size="27.20" letter-spacing="-0.25" text-anchor="middle" font-family="Liberation Sans, sans-serif" stroke="#fff" stroke-width="0.40" stroke-linejoin="round" fill="#000">1.2</text>
<text x="679.45" y="574.00" font-size="27.20" letter-spacing="-0.25" text-anchor="middle" font-family="Liberation Sans, sans-serif" stroke="#fff" stroke-width="0.40" stroke-linejoin="round" fill="#000">1.4</text>
<text x="761.82" y="574.00" font-size="27.20" letter-spacing="-0.25" text-anchor="middle" font-family="Liberation Sans, sans-serif" stroke="#fff" stroke-width="0.40" stroke-linejoin="round" fill="#000">1.6</text>
<text x="87.50" y="489.97" font-size="27.20" letter-spacing="-0.25" text-anchor="end" font-family="Liberation Sans, sans-serif" stroke="#fff" stroke-width="0.40" stroke-linejoin="round" fill="#000">0.2</text>
<text x="87.50" y="372.30" font-size="27.20" letter-spacing="-0.25" text-anchor="end" font-family="Liberation Sans, sans-serif" stroke="#fff" stroke-width="0.40" stroke-linejoin="round" fill="#000">0.4</text>
<text x="87.50" y="254.63" font-size="27.20" letter-spacing="-0.25" text-anchor="end" font-family="Liberation Sans, sans-serif" stroke="#fff" stroke-width="0.40" stroke-linejoin="round" fill="#000">0.6</text>
<text x="87.50" y="136.97" font-size="27.20" letter-spacing="-0.25" text-anchor="end" font-family="Liberation Sans, sans-serif" stroke="#fff" stroke-width="0.40" stroke-linejoin="round" fill="#000">0.8</text>
<text x="87.50" y="19.30" font-size="27.20" letter-spacing="-0.25" text-anchor="end" font-family="Liberation Sans, sans-serif" stroke="#fff" stroke-width="0.40" stroke-linejoin="round" fill="#000">1.0</text>
<text transform="translate(599.92,40.20) scale(0.824,1.000)" font-size="25.50" font-family="Liberation Sans, sans-serif" stroke="#fff" stroke-width="0.40" stroke-linejoin="round" fill="#000" font-style="italic">a</text>
<text transform="translate(613.31,40.20) scale(0.901,1.000)" font-size="27.00" font-family="Liberation Sans, sans-serif" stroke="#fff" stroke-width="0.40" stroke-linejoin="round" fill="#000">0</text>
<text transform="translate(627.04,40.20) scale(0.963,1.000)" font-size="27.00" font-family="Liberation Sans, sans-serif" stroke="#fff" stroke-width="0.40" stroke-linejoin="round" fill="#000">6</text>
<text transform="translate(643.98,40.20) scale(1.012,1.000)" font-size="25.50" font-family="Liberation Sans, sans-serif" stroke="#fff" stroke-width="0.40" stroke-linejoin="round" fill="#000" font-style="italic">m</text>
<text transform="translate(665.85,40.20) scale(0.848,1.000)" font-size="27.00" font-family="Liberation Sans, sans-serif" stroke="#fff" stroke-width="0.40" stroke-linejoin="round" fill="#000">3</text>
<text transform="translate(681.75,40.20) scale(0.684,1.000)" font-size="27.00" font-family="Liberation Sans, sans-serif" stroke="#fff" stroke-width="0.40" stroke-linejoin="round" fill="#000">1</text>
<text transform="translate(694.62,40.20) scale(0.886,1.000)" font-size="27.00" font-family="Liberation Sans, sans-serif" stroke="#fff" stroke-width="0.40" stroke-linejoin="round" fill="#000">0</text>
<text transform="translate(599.92,64.90) scale(0.824,1.000)" font-size="25.50" font-family="Liberation Sans, sans-serif" stroke="#fff" stroke-width="0.40" stroke-linejoin="round" fill="#000" font-style="italic">a</text>
<text transform="translate(613.31,64.90) scale(0.901,1.000)" font-size="27.00" font-family="Liberation Sans, sans-serif" stroke="#fff" stroke-width="0.40" stroke-linejoin="round" fill="#000">0</text>
<text transform="translate(627.04,64.90) scale(0.963,1.000)" font-size="27.00" font-family="Liberation Sans, sans-serif" stroke="#fff" stroke-width="0.40" stroke-linejoin="round" fill="#000">6</text>
<text transform="translate(643.98,64.90) scale(1.012,1.000)" font-size="25.50" font-family="Liberation Sans, sans-serif" stroke="#fff" stroke-width="0.40" stroke-linejoin="round" fill="#000" font-style="italic">m</text>
<text transform="translate(665.29,64.90) scale(0.928,1.000)" font-size="27.00" font-family="Liberation Sans, sans-serif" stroke="#fff" stroke-width="0.40" stroke-linejoin="round" fill="#000">2</text>
<text transform="translate(679.78,64.90) scale(0.936,1.000)" font-size="27.00" font-family="Liberation Sans, sans-serif" stroke="#fff" stroke-width="0.40" stroke-linejoin="round" fill="#000">2</text>
<text transform="translate(694.62,64.90) scale(0.886,1.000)" font-size="27.00" font-family="Liberation Sans, sans-serif" stroke="#fff" stroke-width="0.40" stroke-linejoin="round" fill="#000">0</text>
<text transform="translate(599.92,89.40) scale(0.824,1.000)" font-size="25.50" font-family="Liberation Sans, sans-serif" stroke="#fff" stroke-width="0.40" stroke-linejoin="round" fill="#000" font-style="italic">a</text>
<text transform="translate(613.31,89.40) scale(0.901,1.000)" font-size="27.00" font-family="Liberation Sans, sans-serif" stroke="#fff" stroke-width="0.40" stroke-linejoin="round" fill="#000">0</text>
<text transform="translate(627.04,89.40) scale(0.963,1.000)" font-size="27.00" font-family="Liberation Sans, sans-serif" stroke="#fff" stroke-width="0.40" stroke-linejoin="round" fill="#000">6</text>
<text transform="translate(643.98,89.40) scale(1.012,1.000)" font-size="25.50" font-family="Liberation Sans, sans-serif" stroke="#fff" stroke-width="0.40" stroke-linejoin="round" fill="#000" font-style="italic">m</text>
<text transform="translate(666.08,89.40) scale(0.717,1.000)" font-size="27.00" font-family="Liberation Sans, sans-serif" stroke="#fff" stroke-width="0.40" stroke-linejoin="round" fill="#000">1</text>
<text transform="translate(680.78,89.40) scale(0.810,1.000)" font-size="27.00" font-family="Liberation Sans, sans-serif" stroke="#fff" stroke-width="0.40" stroke-linejoin="round" fill="#000">3</text>
<text transform="translate(694.91,89.40) scale(0.866,1.000)" font-size="27.00" font-family="Liberation Sans, sans-serif" stroke="#fff" stroke-width="0.40" stroke-linejoin="round" fill="#000">5</text>
<text transform="translate(392.79,611.00) scale(1.027,1.000)" font-size="28.00" font-family="Liberation Sans, sans-serif" stroke="#fff" stroke-width="0.40" stroke-linejoin="round" fill="#000" font-style="italic">Q</text>
<text transform="translate(414.49,600.90) scale(1.084,1.000)" font-size="19.30" font-family="Liberation Sans, sans-serif" stroke="#fff" stroke-width="0.40" stroke-linejoin="round" fill="#000">2</text>
<text transform="translate(433.62,611.50) scale(0.799,1.000)" font-size="28.90" font-family="Liberation Sans, sans-serif" stroke="#fff" stroke-width="0.40" stroke-linejoin="round" fill="#000">[</text>
<text transform="translate(440.87,611.00) scale(0.834,1.000)" font-size="28.00" font-family="Liberation Sans, sans-serif" stroke="#fff" stroke-width="0.40" stroke-linejoin="round" fill="#000">G</text>
<text transform="translate(458.58,611.00) scale(0.946,0.877)" font-size="28.00" font-family="Liberation Sans, sans-serif" stroke="#fff" stroke-width="0.40" stroke-linejoin="round" fill="#000">e</text>
<text transform="translate(473.04,611.00) scale(0.998,1.000)" font-size="28.00" font-family="Liberation Sans, sans-serif" stroke="#fff" stroke-width="0.40" stroke-linejoin="round" fill="#000">V</text>
<text transform="translate(491.99,600.90) scale(0.982,1.000)" font-size="19.30" font-family="Liberation Sans, sans-serif" stroke="#fff" stroke-width="0.40" stroke-linejoin="round" fill="#000">2</text>
<text transform="translate(505.34,611.50) scale(0.794,1.000)" font-size="28.90" font-family="Liberation Sans, sans-serif" stroke="#fff" stroke-width="0.40" stroke-linejoin="round" fill="#000">]</text>
<text transform="translate(22.20,314.40) rotate(-90) translate(1.20,0.00) scale(0.760,1)" font-size="29.00" font-family="Liberation Sans, sans-serif" stroke="#fff" stroke-width="0.40" stroke-linejoin="round" fill="#000" font-style="italic">G</text>
<text transform="translate(22.20,314.40) rotate(-90) translate(17.70,4.00) scale(1.350,1)" font-size="19.50" font-family="Liberation Sans, sans-serif" stroke="#fff" stroke-width="0.40" stroke-linejoin="round" fill="#000" font-style="italic">E</text>
<text transform="translate(22.20,314.40) rotate(-90) translate(36.40,5.40) scale(0.780,1)" font-size="37.50" font-family="Liberation Sans, sans-serif" stroke="#fff" stroke-width="1.50" fill="#000" font-style="italic">/</text>
<text transform="translate(22.20,314.40) rotate(-90) translate(47.50,0.00) scale(1.000,1)" font-size="27.00" font-family="Liberation Sans, sans-serif" stroke="#fff" stroke-width="0.40" stroke-linejoin="round" fill="#000" font-style="italic">g</text>
<text transform="translate(22.20,314.40) rotate(-90) translate(61.50,4.00) scale(1.000,1)" font-size="19.50" font-family="Liberation Sans, sans-serif" stroke="#fff" stroke-width="0.40" stroke-linejoin="round" fill="#000" font-style="italic">V</text>
</g>
</svg>
</body></html>
